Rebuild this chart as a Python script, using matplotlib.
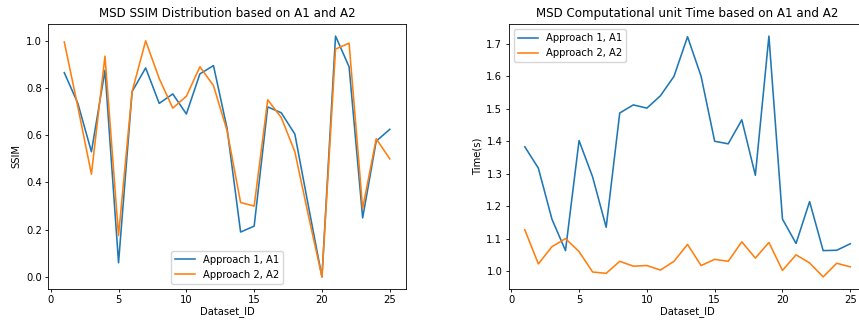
import numpy as np
import matplotlib.pyplot as plt

dataset_id = list(range(1, 26))

# SSIM per dataset
ssim_a1 = [0.865, 0.735, 0.53, 0.875, 0.06, 0.785, 0.885, 0.735, 0.775, 0.69,
           0.86, 0.895, 0.63, 0.19, 0.215, 0.72, 0.695, 0.605, 0.30, 0.0,
           1.02, 0.89, 0.25, 0.575, 0.625]
ssim_a2 = [0.995, 0.72, 0.435, 0.935, 0.175, 0.785, 1.0, 0.84, 0.715, 0.765,
           0.89, 0.81, 0.62, 0.315, 0.30, 0.75, 0.675, 0.53, 0.26, 0.0,
           0.965, 0.99, 0.29, 0.585, 0.50]

# computational unit time per dataset
time_a1 = [1.383, 1.317, 1.16, 1.063, 1.402, 1.29, 1.135, 1.487, 1.512, 1.502,
           1.54, 1.60, 1.722, 1.60, 1.40, 1.392, 1.466, 1.295, 1.724, 1.16,
           1.085, 1.214, 1.063, 1.064, 1.084]
time_a2 = [1.127, 1.022, 1.075, 1.10, 1.06, 0.997, 0.993, 1.03, 1.015, 1.017,
           1.003, 1.03, 1.082, 1.017, 1.036, 1.03, 1.09, 1.04, 1.088, 1.002,
           1.05, 1.025, 0.982, 1.024, 1.013]

labels = ['Approach 1, A1', 'Approach 2, A2']

plt.rcParams['font.size'] = 7.2
plt.rcParams['lines.linewidth'] = 1.15
plt.rcParams['axes.linewidth'] = 0.6

fig = plt.figure(figsize=(8.59, 3.25), dpi=100)
ax1 = fig.add_axes([0.0559, 0.111, 0.4168, 0.815])
ax2 = fig.add_axes([0.592, 0.111, 0.4168, 0.815])

ax1.plot(dataset_id, ssim_a1)
ax1.plot(dataset_id, ssim_a2)
ax1.set_title('MSD SSIM Distribution based on A1 and A2', fontsize=8.6, pad=5)
ax1.set_xlabel('Dataset_ID')
ax1.set_ylabel('SSIM')
ax1.legend(labels, loc='lower center')

ax2.plot(dataset_id, time_a1)
ax2.plot(dataset_id, time_a2)
ax2.set_title('MSD Computational unit Time based on A1 and A2', fontsize=8.6, pad=5)
ax2.set_xlabel('Dataset_ID')
ax2.set_ylabel('Time(s)')
ax2.legend(labels, loc='upper left')

for ax in (ax1, ax2):
    ax.tick_params(width=0.6, length=2.5, pad=2)
    ax.xaxis.labelpad = 1
    ax.yaxis.labelpad = 3

plt.savefig('out.png', dpi=100)
